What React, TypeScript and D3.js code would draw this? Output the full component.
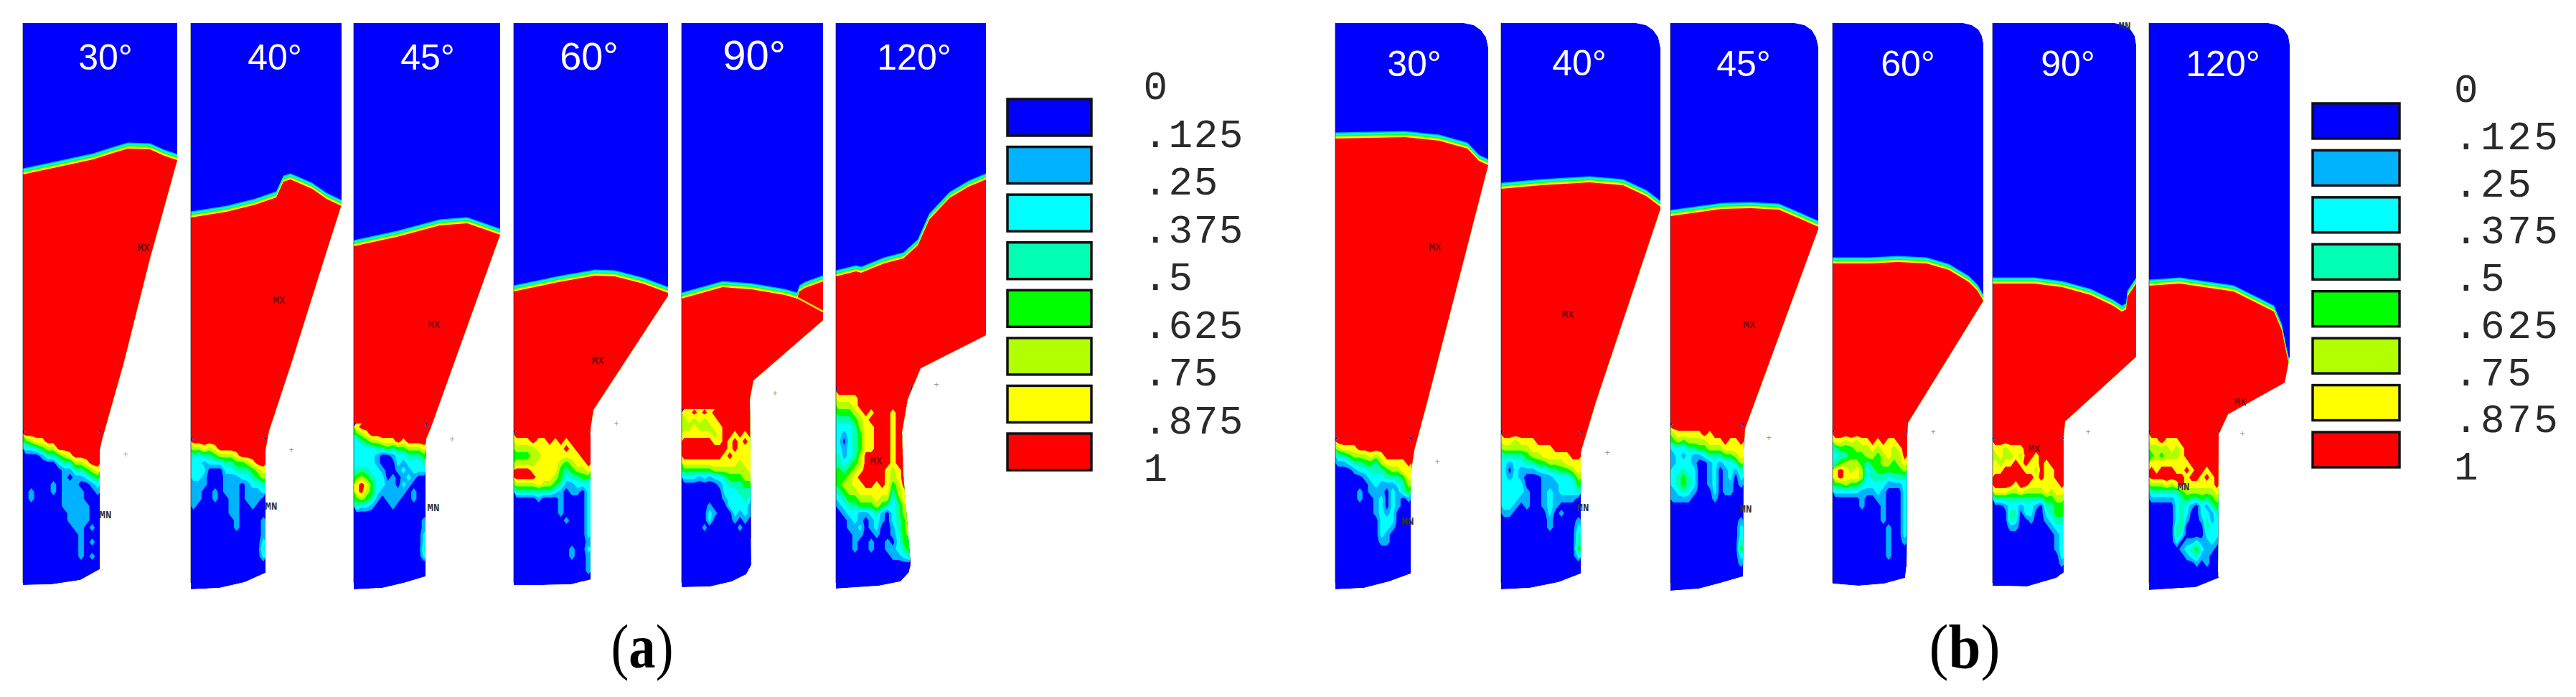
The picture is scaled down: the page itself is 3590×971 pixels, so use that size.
import * as d3 from "d3";

type Pt = [number, number];

const WIDTH = 3590;
const HEIGHT = 971;
const COLS = 14;

// legend, one colour per band of volume fraction
const BAND_COLORS = ["#0000ff", "#00b2ff", "#00ffff", "#00ffb2", "#00ff00", "#b2ff00", "#ffff00", "#ff0000"];
const LEGEND_TICKS = ["0", ".125", ".25", ".375", ".5", ".625", ".75", ".875", "1"];
const THRESHOLDS = [0.5, 1.5, 2.5, 3.5, 4.5, 5.5, 6.5];
const ANGLES = ["30°", "40°", "45°", "60°", "90°", "120°"];

// section outlines, units from the top-left corner of each panel
const outlineA30: Pt[] = [[0, 0], [21.5, 0], [21.5, 19.1], [17.7, 32.8], [14, 47.5], [11, 58.1], [10.7, 59.5], [10.7, 76.1], [8, 77.6], [4, 78.2], [0, 78.3]];
const outlineA40: Pt[] = [[0, 0], [21, 0], [21, 25.3], [18.6, 32.8], [14.1, 47.1], [10.9, 56.8], [10.4, 59.5], [10.4, 76.6], [7.5, 77.9], [4, 78.7], [0, 78.9]];
const outlineA45: Pt[] = [[0, 0], [20.4, 0], [20.4, 29.5], [10.7, 56.5], [10.1, 57.9], [10, 61], [10, 77.1], [7, 78], [4, 78.7], [0, 78.9]];
const outlineA60: Pt[] = [[0, 0], [21.5, 0], [21.5, 38], [11.1, 53.9], [10.7, 56.5], [10.7, 77.5], [8, 78.2], [4, 78.3], [0, 78.3]];
const outlineA90: Pt[] = [[0, 0], [19.7, 0], [19.7, 41.4], [10, 49.8], [9.5, 52.4], [9.7, 75.5], [9, 76.8], [7, 77.8], [4, 78.5], [0, 78.6]];
const outlineA120: Pt[] = [[0, 0], [20.9, 0], [20.9, 43.5], [11.8, 48.1], [10, 52.4], [9.2, 57], [9.4, 63.1], [10.2, 73.1], [10.4, 75.3], [10.2, 76.5], [9, 77.8], [6, 78.4], [0, 78.8]];
const outlineB30: Pt[] = [[0, 0], [17.9, 0], [19.3, 0.3], [20.3, 1], [21, 2], [21.3, 3.4], [21.3, 19.8], [12.8, 52.8], [11, 59.5], [10.5, 62.8], [10.5, 76.7], [7.5, 77.8], [4, 78.7], [0, 78.9]];
const outlineB40: Pt[] = [[0, 0], [18.8, 0], [20.2, 0.3], [21.2, 1], [21.9, 2], [22.2, 3.4], [22.2, 25.9], [13.2, 52.8], [11.1, 59.8], [11.1, 76.7], [8, 77.9], [4, 78.7], [0, 78.9]];
const outlineB45: Pt[] = [[0, 0], [17.3, 0], [18.7, 0.3], [19.7, 1], [20.3, 2], [20.6, 3.3], [20.6, 28.7], [10.4, 56.5], [10.2, 59.5], [10.1, 77.1], [7, 78], [4, 78.8], [0, 79.1]];
const outlineB60: Pt[] = [[0, 0], [18.2, 0], [19.4, 0.3], [20.3, 0.9], [20.8, 1.8], [21, 2.8], [21, 38.7], [10.5, 55.7], [10.4, 57.5], [10.3, 75.5], [10.1, 77.3], [7.2, 78.1], [3.6, 78.4], [0, 78.1]];
const outlineB90: Pt[] = [[0, 0], [17, 0], [18.3, 0.3], [19.2, 0.9], [19.8, 1.8], [20, 3], [20, 46.5], [10.1, 55.5], [9.9, 57.5], [9.9, 76.5], [8.9, 77.3], [4.8, 78.5], [0, 78.4]];
const outlineB120: Pt[] = [[0, 0], [16.6, 0], [17.9, 0.3], [18.8, 0.9], [19.4, 1.8], [19.6, 3], [19.6, 46.5], [19.3, 48], [18.9, 50.1], [11, 54.5], [9.7, 57.3], [9.6, 76.5], [9.7, 77.3], [6.5, 78.6], [0, 79]];

// upper fill front (red side boundary)
const frontA30: Pt[] = [[0, 21.1], [4.7, 20.1], [9.8, 19], [12.6, 18.1], [14.6, 17.5], [17.7, 17.6], [19.7, 18.5], [21.5, 19.1]];
const frontA40: Pt[] = [[0, 27.1], [5, 26.3], [9, 25.3], [11.9, 24.3], [12.9, 22.1], [13.9, 21.8], [16.9, 23.1], [18.9, 24.5], [21, 25.5]];
const frontA45: Pt[] = [[0, 31.1], [6, 29.8], [12, 28.2], [15.8, 27.9], [20.4, 29.5]];
const frontA60: Pt[] = [[0, 37.4], [6.2, 36.1], [11.3, 35.2], [14.1, 35.3], [18, 36.3], [21.5, 37.6]];
const frontA90: Pt[] = [[0, 38.4], [5.7, 36.8], [9.7, 37.1], [14.4, 37.9], [16.1, 38.4], [16.4, 37.4], [17.2, 36.9], [19.7, 36]];
const frontA120: Pt[] = [[0, 35.3], [2.8, 34.6], [3.5, 34.8], [6.7, 33.5], [9.4, 32.8], [11.4, 31], [13, 27.4], [15.8, 24.4], [18.5, 22.8], [20.9, 21.8]];
const frontB30: Pt[] = [[0, 16.1], [9.7, 15.9], [14.5, 16.4], [18.4, 17.5], [20, 19.2], [21.3, 19.8]];
const frontB40: Pt[] = [[0, 23.1], [5.6, 22.6], [12.3, 22.2], [17, 22.6], [20.2, 24.1], [22.2, 25.6]];
const frontB45: Pt[] = [[0, 26.9], [7.2, 25.9], [11.2, 25.8], [15.1, 26], [17.9, 27.2], [20.6, 28.4]];
const frontB60: Pt[] = [[0, 33.5], [5.2, 33.5], [9.1, 33.3], [13.1, 33.5], [16.2, 34.4], [19, 36.1], [20.2, 37.3], [21, 38.7]];
const frontB90: Pt[] = [[0, 36.3], [5.8, 36.3], [9.7, 36.8], [13.7, 37.9], [16.8, 39.4], [18, 40.2], [18.6, 39.9], [18.8, 38.1], [20, 36.3]];
const frontB120: Pt[] = [[0, 36.6], [4.3, 36.3], [11.8, 37.4], [17.4, 40.2], [18.5, 42.8], [19.1, 45.8], [19.6, 48]];

const seamA90: Pt[] = [[16, 38.2], [19.7, 40.2]];

// lower fill zone, band index per cell (0 blue .. 7 red), rows one unit high
const gridA30 = ["77777777777777", "45667777777777", "22345577777777", "00013345677777", "00000023355677", "00000001133456", "00000001011234", "00000101110012", "01000101111001", "01000001111000", "00000001111100", "00000000111100", "00000000111100", "00000000011010", "00000000001000", "00000000001010", "00000000001000", "00000000001010", "00000000000000"];
const gridA40 = ["77777777777777", "55656777777777", "32334555677777", "22122233445677", "22200022333456", "22100011122345", "11100011101223", "11001011101112", "11001001101110", "10000001100100", "00000001100000", "00000000100001", "00000000100001", "00000000000001", "00000000000002", "00000000000003", "00000000000002", "00000000000000"];
const gridA45 = ["67777777777777", "45677777777777", "23455666767777", "22223343445556", "22221001223334", "22221000212223", "33322100121222", "45432201012100", "67642211021000", "67542111110100", "45431011100100", "32210001000000", "00000000000000", "00000000000001", "00000000000001", "00000000000002", "00000000000002", "00000000000003", "00000000000002", "00000000000000"];
const gridA60 = ["77777777777777", "66676676767777", "55556666676777", "44455666666677", "55556666545667", "77766666434556", "77776665423344", "55556554311222", "33333332101102", "00001000100002", "00000000100002", "00000000100002", "00000000010002", "00000000000002", "00000000000002", "00000000000001", "00000000001002", "00000000001001", "00000000000001", "00000000000001", "00000000000000"];
const gridA90 = ["66767677777777", "56565667777777", "55655566777777", "66666656776767", "77777766767676", "77777777767666", "77777777676666", "66666666666566", "44444455555556", "22212122344455", "00000001233344", "00000000222333", "00000000122232", "00000100022221", "00000210002121", "00000200001010", "00001000000100", "00000000000000"];
const gridA120 = ["77777777777777", "66667777777777", "55567777777777", "44456767776777", "33345677776777", "22235667776777", "21234667776777", "20234667776777", "21234667776777", "31235777776777", "32345777776777", "43456777765677", "44567777765677", "45566776764577", "34556666663567", "23445556552467", "12334445432357", "01221123102356", "00121012102346", "00112012001346", "00011001001245", "00010010010244", "00010010011234", "00000000001123", "00000000000000"];
const gridB30 = ["77777777777777", "56667777777777", "33455565677777", "11233443566667", "00012233345566", "00000122233346", "00000012111235", "00001011102134", "00001001202101", "00000001202100", "00000001212000", "00000000222000", "00000000221000", "00000000210000", "00000000110000", "00000000000000"];
const gridB40 = ["77777777777777", "66566677777777", "55555666677777", "33334556666677", "21223344555666", "20211122334456", "21210001122235", "22220001112224", "22221001212223", "22211001211110", "22101001210000", "11000000201000", "00000000100001", "00000000100002", "00000000000003", "00000000000003", "00000000000004", "00000000000002", "00000000000000"];
const gridB45 = ["77777777777777", "56666676777777", "45455556667667", "22233445556666", "12121123334456", "12221001212235", "22322001201213", "23432001201202", "23432001201101", "12321000201100", "11110000100000", "00000000000000", "00000000000000", "00000000000001", "00000000000002", "00000000000002", "00000000000003", "00000000000004", "00000000000002", "00000000000001", "00000000000000"];
const gridB60 = ["77777777777777", "66565667676677", "34445556566567", "23344455456557", "34555434455456", "67656523444445", "67666523332333", "44544322221112", "22222111210002", "00000100110002", "00000100010002", "00000000010002", "00000000010002", "00000000001002", "00000000001002", "00000000001001", "00000000001000", "00000000001000", "00000000000000"];
const gridB90 = ["77777777777777", "66566677777777", "56556577677777", "65667676676777", "66777766576677", "77777777676677", "77776776666667", "66655655556566", "33333333334455", "00122122103344", "00033022002344", "00032001001233", "00011000000122", "00000000000012", "00000000000012", "00000000000012", "00000000000002", "00000000000001", "00000000000000"];
const gridB120 = ["77777777777777", "66766677777777", "55556567777777", "45455567777777", "66666666777777", "76777667677677", "77777776776767", "55565676666667", "33333345555556", "11111234334345", "00000232102134", "00000232002213", "00000231001312", "00000330000322", "00000320000222", "00000201121121", "00000012342110", "00000001231100", "00000000010100", "00000000000000"];

const gridTopA = [56.8, 57.8, 55.8, 56.8, 53.8, 50.8];
const gridTopB = [57.8, 56.8, 55.8, 56.8, 57.8, 56.8];
const gridWidthA = [10.8, 10.5, 10.2, 10.8, 9.9, 10.6];
const gridWidthB = [10.6, 11.2, 10.2, 10.4, 10, 9.8];

// layout in page pixels
const FRAMES_A = [[32, 247], [266, 476], [493, 697], [716, 931], [950, 1147], [1165, 1374]];
const FRAMES_B = [[1861, 2074], [2092, 2314], [2328, 2534], [2554, 2764], [2777, 2977], [2995, 3191]];
const LABEL_X_A = [147, 383, 596, 821, 1051, 1274];
const LABEL_X_B = [1971, 2201, 2430, 2659, 2882, 3098];
const LABEL_Y_A = [97, 97, 97, 97, 97, 97];
const LABEL_Y_B = [106, 105, 106, 106, 106, 106];
const LABEL_SIZE_A = [50, 50, 50, 54, 58, 50];
const LABEL_SIZE_B = [50, 50, 50, 50, 50, 50];

const MAX_MARKS: Pt[] = [[200, 345], [389, 418], [605, 452], [833, 502], [1221, 642], [2000, 344], [2185, 438], [2438, 452], [2835, 625], [3122, 560]];
const MIN_MARKS: Pt[] = [[147, 717], [378, 705], [604, 707], [1962, 726], [2206, 707], [2433, 709], [3043, 678], [2961, 36]];
const PLUS_MARKS: Pt[] = [[175, 633], [406, 627], [630, 612], [859, 590], [1080, 548], [1305, 536], [2003, 643], [2240, 631], [2465, 610], [2694, 602], [2910, 602], [3125, 604]];

// distance of each colour band above the red front
const FRONT_BANDS = [[1, -0.85], [2, -0.7], [3, -0.55], [4, -0.42], [5, -0.32], [6, -0.22], [7, 0]];

const outlines = [outlineA30, outlineA40, outlineA45, outlineA60, outlineA90, outlineA120, outlineB30, outlineB40, outlineB45, outlineB60, outlineB90, outlineB120];
const fronts = [frontA30, frontA40, frontA45, frontA60, frontA90, frontA120, frontB30, frontB40, frontB45, frontB60, frontB90, frontB120];
const grids = [gridA30, gridA40, gridA45, gridA60, gridA90, gridA120, gridB30, gridB40, gridB45, gridB60, gridB90, gridB120];
const frames = [...FRAMES_A, ...FRAMES_B];
const gridTops = [...gridTopA, ...gridTopB];
const gridWidths = [...gridWidthA, ...gridWidthB];

function Panel({ index }: { index: number }) {
  const [left, right] = frames[index];
  const x = d3.scaleLinear().domain([0, (right - left) / 10]).range([left, right]);
  const y = d3.scaleLinear().domain([0, 79]).range([32, 822]);

  const outline = d3.line<Pt>().x((d) => x(d[0])).y((d) => y(d[1]))(outlines[index]) + "Z";
  const rows = grids[index].map((r) => r.padEnd(COLS, "0").slice(0, COLS));
  const top = gridTops[index];
  const bottom = top + rows.length;
  const gw = gridWidths[index];

  const values = rows.join("").split("").map(Number);
  const contours = d3.contours().size([COLS, rows.length]).thresholds(THRESHOLDS)(values);
  const gx = d3.scaleLinear().domain([0, COLS]).range([x(0), x(gw)]);
  const gy = d3.scaleLinear().domain([0, rows.length]).range([y(top), y(bottom)]);
  const toPage = d3.geoTransform({
    point(px: number, py: number) {
      (this as any).stream.point(gx(px), gy(py));
    },
  });
  const contourPath = d3.geoPath(toPage);

  const clipId = `section-${index}`;
  return (
    <g>
      <clipPath id={clipId}>
        <path d={outline} />
      </clipPath>
      <g clipPath={`url(#${clipId})`}>
        <path d={outline} fill={BAND_COLORS[0]} />
        {FRONT_BANDS.map(([band, off]) => {
          const area = d3
            .area<Pt>()
            .x((d) => x(d[0]))
            .y0(y(bottom))
            .y1((d) => y(d[1] + off));
          return <path key={band} d={area(fronts[index]) ?? ""} fill={BAND_COLORS[band]} />;
        })}
        <rect x={gx(0)} y={gy(0)} width={gx(COLS) - gx(0)} height={gy(rows.length) - gy(0)} fill={BAND_COLORS[0]} />
        {contours.map((c, i) => (
          <path key={i} d={contourPath(c as any) ?? ""} fill={BAND_COLORS[i + 1]} />
        ))}
        {index === 4 && (
          <path
            d={d3.line<Pt>().x((d) => x(d[0])).y((d) => y(d[1]))(seamA90) ?? ""}
            fill="none"
            stroke="#ffee00"
            strokeWidth={2.5}
          />
        )}
      </g>
      <line x1={left} x2={left} y1={y(0)} y2={y(78)} stroke="#000" strokeOpacity={0.3} strokeWidth={2} />
    </g>
  );
}

function Legend({ x0, width, boxes, ticks, tickX, tickSpacing }: {
  x0: number;
  width: number;
  boxes: [number, number, number];
  ticks: [number, number];
  tickX: number;
  tickSpacing: number;
}) {
  const boxY = d3.scaleLinear().domain([0, 7]).range([boxes[0], boxes[1]]);
  const tickY = d3.scaleLinear().domain([0, 8]).range(ticks);
  return (
    <g>
      {BAND_COLORS.map((c, i) => (
        <rect key={c} x={x0} y={boxY(i)} width={width} height={boxes[2]} fill={c} stroke="#111" strokeWidth={3.5} />
      ))}
      {LEGEND_TICKS.map((t, i) => (
        <text
          key={t}
          x={tickX}
          y={tickY(i) + 18}
          fontFamily="Liberation Mono"
          fontSize={56}
          letterSpacing={tickSpacing}
          fill="#2a2a2a"
        >
          {t}
        </text>
      ))}
    </g>
  );
}

export default function App() {
  return (
    <svg
      width={WIDTH}
      height={HEIGHT}
      viewBox={`0 0 ${WIDTH} ${HEIGHT}`}
      style={{ position: "absolute", left: 0, top: 0, background: "#fff" }}
    >
      {frames.map((_, i) => (
        <Panel key={i} index={i} />
      ))}

      {ANGLES.map((a, i) => (
        <text key={`a${a}`} x={LABEL_X_A[i]} y={LABEL_Y_A[i]} textAnchor="middle" fontFamily="Liberation Sans" fontSize={LABEL_SIZE_A[i]} fill="#fff">
          {a}
        </text>
      ))}
      {ANGLES.map((a, i) => (
        <text key={`b${a}`} x={LABEL_X_B[i]} y={LABEL_Y_B[i]} textAnchor="middle" fontFamily="Liberation Sans" fontSize={LABEL_SIZE_B[i]} fill="#fff">
          {a}
        </text>
      ))}

      {MAX_MARKS.map(([mx, my]) => (
        <text key={`mx${mx}`} x={mx} y={my + 5} textAnchor="middle" fontFamily="Liberation Mono" fontWeight="bold" fontSize={14} fill="#7a0a0a">
          MX
        </text>
      ))}
      {MIN_MARKS.map(([mx, my]) => (
        <text key={`mn${mx}`} x={mx} y={my + 5} textAnchor="middle" fontFamily="Liberation Mono" fontWeight="bold" fontSize={14} fill="#333">
          MN
        </text>
      ))}
      {PLUS_MARKS.map(([mx, my]) => (
        <text key={`p${mx}`} x={mx} y={my + 4} textAnchor="middle" fontFamily="Liberation Mono" fontSize={12} fill="#999">
          +
        </text>
      ))}

      <Legend x0={1404} width={117} boxes={[138, 604, 51]} ticks={[120, 652]} tickX={1593.5} tickSpacing={1.5} />
      <Legend x0={3223} width={121} boxes={[144, 602, 49]} ticks={[124, 650]} tickX={3420} tickSpacing={3.5} />

      <text x={895} y={930} textAnchor="middle" fontFamily="Liberation Serif" fontSize={86} fill="#000" textLength={87} lengthAdjust="spacingAndGlyphs">
        (<tspan fontWeight="bold">a</tspan>)
      </text>
      <text x={2738} y={930} textAnchor="middle" fontFamily="Liberation Serif" fontSize={86} fill="#000" textLength={99} lengthAdjust="spacingAndGlyphs">
        (<tspan fontWeight="bold">b</tspan>)
      </text>
    </svg>
  );
}
